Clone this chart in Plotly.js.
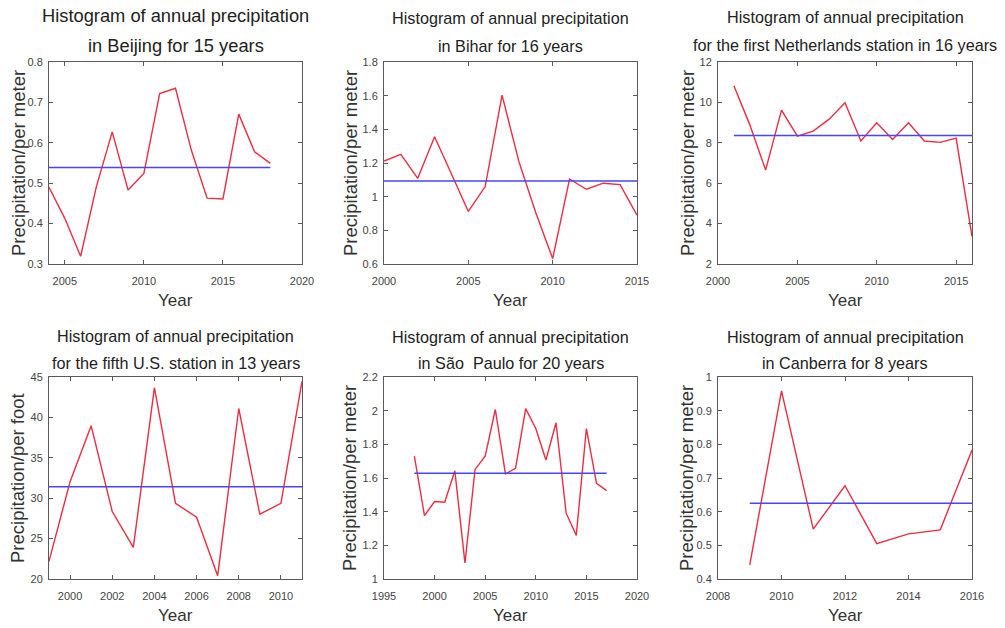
<!DOCTYPE html>
<html>
<head>
<meta charset="utf-8">
<script src="https://cdn.plot.ly/plotly-3.0.1.min.js"></script>
<style>html,body{margin:0;padding:0;background:#fff;}#chart{width:1005px;height:628px;}</style>
</head>
<body>
<div id="chart"></div>
<script>
// ---- data ----
const beijingYears = [2004,2005,2006,2007,2008,2009,2010,2011,2012,2013,2014,2015,2016,2017,2018];
const beijingPrecip = [0.49,0.413,0.319,0.492,0.627,0.483,0.524,0.722,0.735,0.582,0.463,0.461,0.671,0.578,0.549];
const beijingMean = 0.539;

const biharYears = [2000,2001,2002,2003,2004,2005,2006,2007,2008,2009,2010,2011,2012,2013,2014,2015];
const biharPrecip = [1.212,1.251,1.109,1.356,1.135,0.912,1.06,1.603,1.208,0.905,0.632,1.105,1.044,1.08,1.072,0.89];
const biharMean = 1.093;

const nlYears = [2001,2002,2003,2004,2005,2006,2007,2008,2009,2010,2011,2012,2013,2014,2015,2016];
const nlPrecip = [10.82,8.9,6.65,9.62,8.33,8.58,9.17,9.98,8.09,8.99,8.17,8.99,8.09,8.02,8.23,3.37];
const nlMean = 8.36;

const usYears = [1999,2000,2001,2002,2003,2004,2005,2006,2007,2008,2009,2010,2011];
const usPrecip = [22.18,32.05,38.96,28.35,23.91,43.68,29.37,27.65,20.41,41.1,28.02,29.37,44.47];
const usMean = 31.43;

const spYears = [1998,1999,2000,2001,2002,2003,2004,2005,2006,2007,2008,2009,2010,2011,2012,2013,2014,2015,2016,2017];
const spPrecip = [1.73,1.377,1.46,1.456,1.643,1.095,1.651,1.73,2.007,1.624,1.657,2.012,1.894,1.707,1.928,1.391,1.259,1.894,1.568,1.525];
const spMean = 1.628;

const cbYears = [2009,2010,2011,2012,2013,2014,2015,2016];
const cbPrecip = [0.442,0.959,0.548,0.677,0.505,0.534,0.546,0.783];
const cbMean = 0.625;

const titles1 = ["Histogram of annual precipitation","Histogram of annual precipitation","Histogram of annual precipitation",
                 "Histogram of annual precipitation","Histogram of annual precipitation","Histogram of annual precipitation"];
const titles2 = ["in Beijing for 15 years","in Bihar for 16 years","for the first Netherlands station in 16 years",
                 "for the fifth U.S. station in 13 years","in S\u00e3o\u00a0 Paulo for 20 years","in Canberra for 8 years"];
const yLabels = ["Precipitation/per meter","Precipitation/per meter","Precipitation/per meter",
                 "Precipitation/per foot","Precipitation/per meter","Precipitation/per meter"];
const xLabel = "Year";

const xRanges = [[2004,2020],[2000,2015],[2000,2016],[1999,2011],[1995,2020],[2008,2016]];
const xTicks = [[2005,2010,2015,2020],[2000,2005,2010,2015],[2000,2005,2010,2015],
                [2000,2002,2004,2006,2008,2010],[1995,2000,2005,2010,2015,2020],[2008,2010,2012,2014,2016]];
const yRanges = [[0.3,0.8],[0.6,1.8],[2,12],[20,45],[1,2.2],[0.4,1]];
const yTicks = [[0.3,0.4,0.5,0.6,0.7,0.8],[0.6,0.8,1,1.2,1.4,1.6,1.8],[2,4,6,8,10,12],
                [20,25,30,35,40,45],[1,1.2,1.4,1.6,1.8,2,2.2],[0.4,0.5,0.6,0.7,0.8,0.9,1]];

// ---- layout geometry (pixels) ----
const W = 1005, H = 628;
const cols = [[49,302],[384,637],[718,972]];
const rows = [[62,264],[377,579]];
const titleY = [[16,45],[18,46],[17,45],[336,363],[337,363],[337,363]];
const titleSize = [18.3,16.2,16.2,16.2,16.2,16.2];
const yLabelX = [18,350,687,18,350,687];
const xLabelY = [301,301,301,615,615,615];

const series = [
  [beijingYears, beijingPrecip, beijingMean],
  [biharYears, biharPrecip, biharMean],
  [nlYears, nlPrecip, nlMean],
  [usYears, usPrecip, usMean],
  [spYears, spPrecip, spMean],
  [cbYears, cbPrecip, cbMean]
];

const FONT = "Liberation Sans, Arial, Helvetica, sans-serif";
const traces = [];
const layout = {
  width: W, height: H,
  margin: {l:0, r:0, t:0, b:0},
  paper_bgcolor: "#fff", plot_bgcolor: "#fff",
  showlegend: false,
  font: {family: FONT, color: "#333"},
  annotations: []
};

series.forEach((s, i) => {
  const n = i + 1;
  const xa = n === 1 ? "x" : "x" + n;
  const ya = n === 1 ? "y" : "y" + n;
  const [yrs, vals, mean] = s;
  traces.push({x: yrs, y: vals, type: "scatter", mode: "lines", xaxis: xa, yaxis: ya,
               line: {color: "rgb(235,45,65)", width: 1.4}, hoverinfo: "skip"});
  traces.push({x: [yrs[0], yrs[yrs.length-1]], y: [mean, mean], type: "scatter", mode: "lines",
               xaxis: xa, yaxis: ya, line: {color: "rgb(70,70,250)", width: 1.5}, hoverinfo: "skip"});
  const c = cols[i % 3], r = rows[Math.floor(i / 3)];
  const axCommon = {showline: true, mirror: "ticks", linecolor: "#5a5a5a", linewidth: 1,
                    ticks: "inside", ticklen: 4, tickcolor: "#5a5a5a", showgrid: false, zeroline: false,
                    tickfont: {size: 11, color: "#444", family: FONT}, fixedrange: true};
  layout["xaxis" + (n === 1 ? "" : n)] = Object.assign({}, axCommon, {
    domain: [c[0]/W, c[1]/W], anchor: ya, range: xRanges[i], tickvals: xTicks[i],
    ticktext: xTicks[i].map(String), ticklabelstandoff: 7
  });
  layout["yaxis" + (n === 1 ? "" : n)] = Object.assign({}, axCommon, {
    domain: [(H - r[1])/H, (H - r[0])/H], anchor: xa, range: yRanges[i], tickvals: yTicks[i],
    ticktext: yTicks[i].map(String), ticklabelstandoff: 3
  });
  const cx = (c[0] + c[1]) / 2 / W;
  layout.annotations.push({text: titles1[i], xref: "paper", yref: "paper", x: cx, y: (H - titleY[i][0])/H,
    xanchor: "center", yanchor: "middle", showarrow: false, font: {size: titleSize[i], color: "#222", family: FONT}});
  layout.annotations.push({text: titles2[i], xref: "paper", yref: "paper", x: cx, y: (H - titleY[i][1])/H,
    xanchor: "center", yanchor: "middle", showarrow: false, font: {size: titleSize[i], color: "#222", family: FONT}});
  layout.annotations.push({text: xLabel, xref: "paper", yref: "paper", x: cx, y: (H - xLabelY[i])/H,
    xanchor: "center", yanchor: "middle", showarrow: false, font: {size: 17, color: "#333", family: FONT}});
  layout.annotations.push({text: yLabels[i], xref: "paper", yref: "paper", x: yLabelX[i]/W,
    y: (H - (r[0] + r[1]) / 2)/H, xanchor: "center", yanchor: "middle", textangle: -90, showarrow: false,
    font: {size: 18.5, color: "#333", family: FONT}});
});

Plotly.newPlot("chart", traces, layout, {staticPlot: true, displayModeBar: false});
</script>
</body>
</html>
